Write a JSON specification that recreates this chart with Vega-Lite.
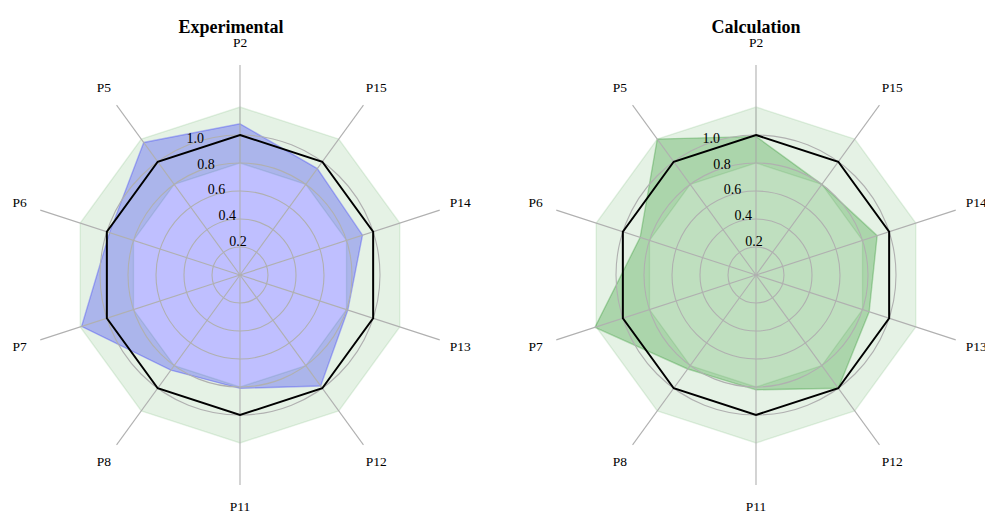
{
  "$schema": "https://vega.github.io/schema/vega-lite/v6.json",
  "autosize": {"type": "pad"},
  "padding": {"left": 12, "top": 19, "right": 0, "bottom": 0},
  "background": "white",
  "config": {"view": {"stroke": null}, "font": "Liberation Serif"},
  "datasets": {
    "axes": [
      {"p": "P2", "i": 0}, {"p": "P15", "i": 1}, {"p": "P14", "i": 2}, {"p": "P13", "i": 3}, {"p": "P12", "i": 4},
      {"p": "P11", "i": 5}, {"p": "P8", "i": 6}, {"p": "P7", "i": 7}, {"p": "P6", "i": 8}, {"p": "P5", "i": 9}
    ],
    "rings": [{"r": 0.2}, {"r": 0.4}, {"r": 0.6}, {"r": 0.8}, {"r": 1.0}],
    "ref": [
      {"i": 0, "r": 1}, {"i": 1, "r": 1}, {"i": 2, "r": 1}, {"i": 3, "r": 1}, {"i": 4, "r": 1},
      {"i": 5, "r": 1}, {"i": 6, "r": 1}, {"i": 7, "r": 1}, {"i": 8, "r": 1}, {"i": 9, "r": 1}
    ],
    "band": [
      {"seq": 0, "i": 0, "r": 1.2}, {"seq": 1, "i": 1, "r": 1.2}, {"seq": 2, "i": 2, "r": 1.2}, {"seq": 3, "i": 3, "r": 1.2},
      {"seq": 4, "i": 4, "r": 1.2}, {"seq": 5, "i": 5, "r": 1.2}, {"seq": 6, "i": 6, "r": 1.2}, {"seq": 7, "i": 7, "r": 1.2},
      {"seq": 8, "i": 8, "r": 1.2}, {"seq": 9, "i": 9, "r": 1.2}, {"seq": 10, "i": 0, "r": 1.2},
      {"seq": 11, "i": 0, "r": 0.8}, {"seq": 12, "i": 9, "r": 0.8}, {"seq": 13, "i": 8, "r": 0.8}, {"seq": 14, "i": 7, "r": 0.8},
      {"seq": 15, "i": 6, "r": 0.8}, {"seq": 16, "i": 5, "r": 0.8}, {"seq": 17, "i": 4, "r": 0.8}, {"seq": 18, "i": 3, "r": 0.8},
      {"seq": 19, "i": 2, "r": 0.8}, {"seq": 20, "i": 1, "r": 0.8}, {"seq": 21, "i": 0, "r": 0.8}
    ],
    "exp": [
      {"p": "P2", "i": 0, "r": 1.08}, {"p": "P15", "i": 1, "r": 0.94}, {"p": "P14", "i": 2, "r": 0.92},
      {"p": "P13", "i": 3, "r": 0.81}, {"p": "P12", "i": 4, "r": 0.98}, {"p": "P11", "i": 5, "r": 0.81},
      {"p": "P8", "i": 6, "r": 0.84}, {"p": "P7", "i": 7, "r": 1.19}, {"p": "P6", "i": 8, "r": 0.98},
      {"p": "P5", "i": 9, "r": 1.17}
    ],
    "calc": [
      {"p": "P2", "i": 0, "r": 0.99}, {"p": "P15", "i": 1, "r": 0.8}, {"p": "P14", "i": 2, "r": 0.91},
      {"p": "P13", "i": 3, "r": 0.85}, {"p": "P12", "i": 4, "r": 1.0}, {"p": "P11", "i": 5, "r": 0.82},
      {"p": "P8", "i": 6, "r": 0.83}, {"p": "P7", "i": 7, "r": 1.21}, {"p": "P6", "i": 8, "r": 0.87},
      {"p": "P5", "i": 9, "r": 1.2}
    ]
  },
  "bounds": "flush",
  "spacing": 96,
  "hconcat": [
    {
      "width": 420,
      "height": 420,
      "layer": [
        {
          "data": {"name": "band"},
          "transform": [
            {"calculate": "datum.r * sin(datum.i * PI / 5)", "as": "x"},
            {"calculate": "datum.r * cos(datum.i * PI / 5)", "as": "y"}
          ],
          "mark": {"type": "line", "interpolate": "linear", "fill": "#008000", "fillOpacity": 0.1, "stroke": "#008000", "strokeOpacity": 0.1, "strokeWidth": 1.4},
          "encoding": {
            "x": {"field": "x", "type": "quantitative", "scale": {"domain": [-1.5, 1.5], "nice": false, "zero": false}, "axis": null},
            "y": {"field": "y", "type": "quantitative", "scale": {"domain": [-1.5, 1.5], "nice": false, "zero": false}, "axis": null},
            "order": {"field": "seq", "type": "quantitative"}
          }
        },
        {
          "data": {"name": "exp"},
          "transform": [
            {"calculate": "datum.r * sin(datum.i * PI / 5)", "as": "x"},
            {"calculate": "datum.r * cos(datum.i * PI / 5)", "as": "y"}
          ],
          "mark": {"type": "line", "interpolate": "linear-closed", "fill": "#0000ff", "fillOpacity": 0.25, "stroke": "#0000ff", "strokeOpacity": 0.25, "strokeWidth": 1.4},
          "encoding": {
            "x": {"field": "x", "type": "quantitative", "scale": {"domain": [-1.5, 1.5], "nice": false, "zero": false}, "axis": null},
            "y": {"field": "y", "type": "quantitative", "scale": {"domain": [-1.5, 1.5], "nice": false, "zero": false}, "axis": null},
            "order": {"field": "i", "type": "quantitative"}
          }
        },
        {
          "data": {"name": "rings"},
          "mark": {"type": "point", "shape": "circle", "filled": false, "stroke": "#b0b0b0", "strokeWidth": 1.1, "opacity": 1},
          "encoding": {
            "x": {"datum": 0, "type": "quantitative", "scale": {"domain": [-1.5, 1.5], "nice": false, "zero": false}, "axis": null},
            "y": {"datum": 0, "type": "quantitative", "scale": {"domain": [-1.5, 1.5], "nice": false, "zero": false}, "axis": null},
            "size": {"field": "r", "type": "quantitative", "scale": {"type": "pow", "exponent": 2, "domain": [0, 1], "range": [0, 78400], "zero": true}, "legend": null}
          }
        },
        {
          "data": {"name": "axes"},
          "transform": [
            {"calculate": "1.5 * sin(datum.i * PI / 5)", "as": "x"},
            {"calculate": "1.5 * cos(datum.i * PI / 5)", "as": "y"},
            {"calculate": "0", "as": "o"}
          ],
          "mark": {"type": "rule", "stroke": "#b0b0b0", "strokeWidth": 1.1},
          "encoding": {
            "x": {"field": "o", "type": "quantitative", "scale": {"domain": [-1.5, 1.5], "nice": false, "zero": false}, "axis": null},
            "y": {"field": "o", "type": "quantitative", "scale": {"domain": [-1.5, 1.5], "nice": false, "zero": false}, "axis": null},
            "x2": {"field": "x"},
            "y2": {"field": "y"}
          }
        },
        {
          "data": {"name": "ref"},
          "transform": [
            {"calculate": "datum.r * sin(datum.i * PI / 5)", "as": "x"},
            {"calculate": "datum.r * cos(datum.i * PI / 5)", "as": "y"}
          ],
          "mark": {"type": "line", "interpolate": "linear-closed", "stroke": "#000000", "strokeWidth": 2},
          "encoding": {
            "x": {"field": "x", "type": "quantitative", "scale": {"domain": [-1.5, 1.5], "nice": false, "zero": false}, "axis": null},
            "y": {"field": "y", "type": "quantitative", "scale": {"domain": [-1.5, 1.5], "nice": false, "zero": false}, "axis": null},
            "order": {"field": "i", "type": "quantitative"}
          }
        },
        {
          "data": {"name": "rings"},
          "transform": [
            {"calculate": "-datum.r * sin(PI / 8)", "as": "x"},
            {"calculate": "datum.r * cos(PI / 8)", "as": "y"}
          ],
          "mark": {"type": "text", "align": "left", "baseline": "bottom", "fontSize": 14, "color": "#000000"},
          "encoding": {
            "x": {"field": "x", "type": "quantitative", "scale": {"domain": [-1.5, 1.5], "nice": false, "zero": false}, "axis": null},
            "y": {"field": "y", "type": "quantitative", "scale": {"domain": [-1.5, 1.5], "nice": false, "zero": false}, "axis": null},
            "text": {"field": "r", "type": "quantitative", "format": ".1f"}
          }
        },
        {
          "data": {"name": "axes"},
          "transform": [
            {"calculate": "1.655 * sin(datum.i * PI / 5)", "as": "x"},
            {"calculate": "1.655 * cos(datum.i * PI / 5)", "as": "y"}
          ],
          "mark": {"type": "text", "align": "center", "baseline": "middle", "fontSize": 13.5, "color": "#000000"},
          "encoding": {
            "x": {"field": "x", "type": "quantitative", "scale": {"domain": [-1.5, 1.5], "nice": false, "zero": false}, "axis": null},
            "y": {"field": "y", "type": "quantitative", "scale": {"domain": [-1.5, 1.5], "nice": false, "zero": false}, "axis": null},
            "text": {"field": "p", "type": "nominal"}
          }
        },
        {
          "data": {"values": [{"t": "Experimental", "x": 0, "y": 1.726}]},
          "mark": {"type": "text", "align": "center", "baseline": "alphabetic", "fontSize": 18, "fontWeight": "bold", "color": "#000000", "dx": -9},
          "encoding": {
            "x": {"field": "x", "type": "quantitative", "scale": {"domain": [-1.5, 1.5], "nice": false, "zero": false}, "axis": null},
            "y": {"field": "y", "type": "quantitative", "scale": {"domain": [-1.5, 1.5], "nice": false, "zero": false}, "axis": null},
            "text": {"field": "t", "type": "nominal"}
          }
        }
      ]
    },
    {
      "width": 420,
      "height": 420,
      "layer": [
        {
          "data": {"name": "band"},
          "transform": [
            {"calculate": "datum.r * sin(datum.i * PI / 5)", "as": "x"},
            {"calculate": "datum.r * cos(datum.i * PI / 5)", "as": "y"}
          ],
          "mark": {"type": "line", "interpolate": "linear", "fill": "#008000", "fillOpacity": 0.1, "stroke": "#008000", "strokeOpacity": 0.1, "strokeWidth": 1.4},
          "encoding": {
            "x": {"field": "x", "type": "quantitative", "scale": {"domain": [-1.5, 1.5], "nice": false, "zero": false}, "axis": null},
            "y": {"field": "y", "type": "quantitative", "scale": {"domain": [-1.5, 1.5], "nice": false, "zero": false}, "axis": null},
            "order": {"field": "seq", "type": "quantitative"}
          }
        },
        {
          "data": {"name": "calc"},
          "transform": [
            {"calculate": "datum.r * sin(datum.i * PI / 5)", "as": "x"},
            {"calculate": "datum.r * cos(datum.i * PI / 5)", "as": "y"}
          ],
          "mark": {"type": "line", "interpolate": "linear-closed", "fill": "#008000", "fillOpacity": 0.25, "stroke": "#008000", "strokeOpacity": 0.25, "strokeWidth": 1.4},
          "encoding": {
            "x": {"field": "x", "type": "quantitative", "scale": {"domain": [-1.5, 1.5], "nice": false, "zero": false}, "axis": null},
            "y": {"field": "y", "type": "quantitative", "scale": {"domain": [-1.5, 1.5], "nice": false, "zero": false}, "axis": null},
            "order": {"field": "i", "type": "quantitative"}
          }
        },
        {
          "data": {"name": "rings"},
          "mark": {"type": "point", "shape": "circle", "filled": false, "stroke": "#b0b0b0", "strokeWidth": 1.1, "opacity": 1},
          "encoding": {
            "x": {"datum": 0, "type": "quantitative", "scale": {"domain": [-1.5, 1.5], "nice": false, "zero": false}, "axis": null},
            "y": {"datum": 0, "type": "quantitative", "scale": {"domain": [-1.5, 1.5], "nice": false, "zero": false}, "axis": null},
            "size": {"field": "r", "type": "quantitative", "scale": {"type": "pow", "exponent": 2, "domain": [0, 1], "range": [0, 78400], "zero": true}, "legend": null}
          }
        },
        {
          "data": {"name": "axes"},
          "transform": [
            {"calculate": "1.5 * sin(datum.i * PI / 5)", "as": "x"},
            {"calculate": "1.5 * cos(datum.i * PI / 5)", "as": "y"},
            {"calculate": "0", "as": "o"}
          ],
          "mark": {"type": "rule", "stroke": "#b0b0b0", "strokeWidth": 1.1},
          "encoding": {
            "x": {"field": "o", "type": "quantitative", "scale": {"domain": [-1.5, 1.5], "nice": false, "zero": false}, "axis": null},
            "y": {"field": "o", "type": "quantitative", "scale": {"domain": [-1.5, 1.5], "nice": false, "zero": false}, "axis": null},
            "x2": {"field": "x"},
            "y2": {"field": "y"}
          }
        },
        {
          "data": {"name": "ref"},
          "transform": [
            {"calculate": "datum.r * sin(datum.i * PI / 5)", "as": "x"},
            {"calculate": "datum.r * cos(datum.i * PI / 5)", "as": "y"}
          ],
          "mark": {"type": "line", "interpolate": "linear-closed", "stroke": "#000000", "strokeWidth": 2},
          "encoding": {
            "x": {"field": "x", "type": "quantitative", "scale": {"domain": [-1.5, 1.5], "nice": false, "zero": false}, "axis": null},
            "y": {"field": "y", "type": "quantitative", "scale": {"domain": [-1.5, 1.5], "nice": false, "zero": false}, "axis": null},
            "order": {"field": "i", "type": "quantitative"}
          }
        },
        {
          "data": {"name": "rings"},
          "transform": [
            {"calculate": "-datum.r * sin(PI / 8)", "as": "x"},
            {"calculate": "datum.r * cos(PI / 8)", "as": "y"}
          ],
          "mark": {"type": "text", "align": "left", "baseline": "bottom", "fontSize": 14, "color": "#000000"},
          "encoding": {
            "x": {"field": "x", "type": "quantitative", "scale": {"domain": [-1.5, 1.5], "nice": false, "zero": false}, "axis": null},
            "y": {"field": "y", "type": "quantitative", "scale": {"domain": [-1.5, 1.5], "nice": false, "zero": false}, "axis": null},
            "text": {"field": "r", "type": "quantitative", "format": ".1f"}
          }
        },
        {
          "data": {"name": "axes"},
          "transform": [
            {"calculate": "1.655 * sin(datum.i * PI / 5)", "as": "x"},
            {"calculate": "1.655 * cos(datum.i * PI / 5)", "as": "y"}
          ],
          "mark": {"type": "text", "align": "center", "baseline": "middle", "fontSize": 13.5, "color": "#000000"},
          "encoding": {
            "x": {"field": "x", "type": "quantitative", "scale": {"domain": [-1.5, 1.5], "nice": false, "zero": false}, "axis": null},
            "y": {"field": "y", "type": "quantitative", "scale": {"domain": [-1.5, 1.5], "nice": false, "zero": false}, "axis": null},
            "text": {"field": "p", "type": "nominal"}
          }
        },
        {
          "data": {"values": [{"t": "Calculation", "x": 0, "y": 1.726}]},
          "mark": {"type": "text", "align": "center", "baseline": "alphabetic", "fontSize": 18, "fontWeight": "bold", "color": "#000000"},
          "encoding": {
            "x": {"field": "x", "type": "quantitative", "scale": {"domain": [-1.5, 1.5], "nice": false, "zero": false}, "axis": null},
            "y": {"field": "y", "type": "quantitative", "scale": {"domain": [-1.5, 1.5], "nice": false, "zero": false}, "axis": null},
            "text": {"field": "t", "type": "nominal"}
          }
        }
      ]
    }
  ]
}
